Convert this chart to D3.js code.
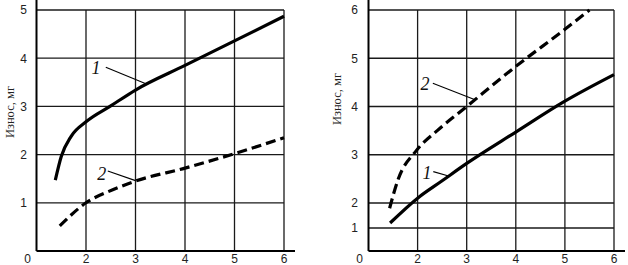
<!DOCTYPE html>
<html lang="ru">
<head>
<meta charset="UTF-8">
<title>Износ</title>
<script src="https://d3js.org/d3.v7.min.js"></script>
<style>
  body { margin: 0; background: #fff; }
</style>
</head>
<body>
<div id="container"></div>
<script>
  // Données
  const xTicks = [2, 3, 4, 5, 6];
  const yTicksLeft = [1, 2, 3, 4, 5];
  const yTicksRight = [1, 2, 3, 4, 5, 6];
  const axisTitle = "Износ, мг";

  // panneau gauche
  const left1X = [1.38, 1.5, 1.7, 2.0, 2.5, 3, 4, 5, 6];
  const left1Y = [1.47, 1.96, 2.38, 2.68, 3.01, 3.34, 3.85, 4.36, 4.87];
  const left2X = [1.47, 2, 2.54, 3, 4, 5, 6];
  const left2Y = [0.52, 1.0, 1.27, 1.45, 1.72, 2.02, 2.35];

  // panneau droit
  const right1X = [1.44, 2, 2.5, 3, 4, 5, 6];
  const right1Y = [1.2, 2.1, 2.46, 2.82, 3.47, 4.11, 4.66];
  const right2X = [1.43, 1.6, 1.97, 2.4, 3.0, 4.0, 5.0, 5.5];
  const right2Y = [1.79, 2.48, 3.08, 3.5, 4.0, 4.83, 5.6, 6.0];

  // étiquettes des courbes : [texte, x, y, x1, y1, x2, y2]
  const leftLabels = [["1", 2.2, 3.8, 2.4, 3.81, 3.21, 3.47], ["2", 2.32, 1.61, 2.44, 1.66, 3.0, 1.46]];
  const rightLabels = [["2", 2.15, 4.48, 2.31, 4.48, 3.17, 4.14], ["1", 2.19, 2.62, 2.32, 2.65, 2.63, 2.56]];

  const W = 628, H = 265;
  const svg = d3.select("#container").append("svg")
    .attr("width", W).attr("height", H);

  function zip(xs, ys) { return xs.map((v, i) => [v, ys[i]]); }

  function panel(opt) {
    const x = d3.scaleLinear().domain([1, 6]).range(opt.xRange);
    const y = d3.scaleLinear().domain(opt.yDomain).range(opt.yRange);
    const g = svg.append("g");
    const x0 = x(1), y0 = y(0);

    // grille horizontale
    g.append("g").selectAll("line").data(opt.yTicks).join("line")
      .attr("x1", x0).attr("x2", x(6))
      .attr("y1", d => y(d)).attr("y2", d => y(d))
      .attr("stroke", "#1a1a1a").attr("stroke-width", 1.3);
    // grille verticale
    g.append("g").selectAll("line").data(xTicks).join("line")
      .attr("x1", d => x(d)).attr("x2", d => x(d))
      .attr("y1", y(opt.yTicks[opt.yTicks.length - 1])).attr("y2", y0)
      .attr("stroke", "#1a1a1a").attr("stroke-width", 1.3);

    // axes
    g.append("line").attr("x1", x0).attr("x2", x0).attr("y1", 0).attr("y2", y0)
      .attr("stroke", "#000").attr("stroke-width", 2);
    g.append("line").attr("x1", x0).attr("x2", opt.xEnd).attr("y1", y0).attr("y2", y0)
      .attr("stroke", "#000").attr("stroke-width", 2);

    // libellés des graduations
    const sans = "Liberation Sans, Arial, sans-serif";
    g.append("g").selectAll("text").data(opt.yTicks).join("text")
      .attr("x", x0 - opt.yLabelGap).attr("y", d => y(d))
      .attr("dy", "0.36em").attr("text-anchor", "middle")
      .attr("font-family", sans).attr("font-size", 12)
      .attr("fill", "#222").text(d => d);
    g.append("g").selectAll("text").data(xTicks).join("text")
      .attr("x", d => x(d)).attr("y", 263)
      .attr("text-anchor", "middle")
      .attr("font-family", sans).attr("font-size", 12)
      .attr("fill", "#222").text(d => d);
    g.append("text").attr("x", x0 - 9).attr("y", 263).attr("text-anchor", "middle")
      .attr("font-family", sans).attr("font-size", 12)
      .attr("fill", "#222").text("0");

    // titre de l'axe
    g.append("text")
      .attr("transform", `translate(${opt.titleX},${opt.titleY}) rotate(-90)`)
      .attr("text-anchor", "middle").attr("dy", "0.35em")
      .attr("font-family", "Liberation Serif, Times New Roman, serif").attr("font-size", 12.5)
      .attr("fill", "#222").text(axisTitle);

    // courbes
    const line = d3.line().x(d => x(d[0])).y(d => y(d[1])).curve(d3.curveMonotoneX);
    g.append("path").attr("d", line(opt.solid))
      .attr("fill", "none").attr("stroke", "#000").attr("stroke-width", 3.2);
    g.append("path").attr("d", line(opt.dashed))
      .attr("fill", "none").attr("stroke", "#000").attr("stroke-width", 3.2)
      .attr("stroke-dasharray", "10,5");

    // étiquettes et traits de rappel
    opt.labels.forEach(l => {
      g.append("line")
        .attr("x1", x(l[3])).attr("y1", y(l[4])).attr("x2", x(l[5])).attr("y2", y(l[6]))
        .attr("stroke", "#000").attr("stroke-width", 1.1);
      g.append("text").attr("x", x(l[1])).attr("y", y(l[2]))
        .attr("dy", "0.35em").attr("text-anchor", "middle")
        .attr("font-family", "Liberation Serif, Times New Roman, serif")
        .attr("font-style", "italic").attr("font-size", 18)
        .attr("fill", "#111").text(l[0]);
    });
  }

  panel({
    xRange: [36.5, 284], xEnd: 295,
    yDomain: [0, 5], yRange: [251, 10],
    yTicks: yTicksLeft, yLabelGap: 13,
    titleX: 10, titleY: 112,
    solid: zip(left1X, left1Y), dashed: zip(left2X, left2Y),
    labels: leftLabels
  });

  panel({
    xRange: [368.5, 614], xEnd: 625,
    yDomain: [0, 1, 2, 6], yRange: [251, 228, 203, 10],
    yTicks: yTicksRight, yLabelGap: 14,
    titleX: 337, titleY: 99,
    solid: zip(right1X, right1Y), dashed: zip(right2X, right2Y),
    labels: rightLabels
  });
</script>
</body>
</html>
